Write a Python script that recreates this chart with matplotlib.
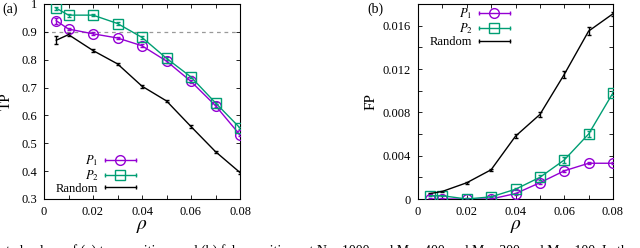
import numpy as np
import matplotlib
matplotlib.use("Agg")
import matplotlib.pyplot as plt
from matplotlib.lines import Line2D
from matplotlib.legend_handler import HandlerLine2D
from matplotlib.ticker import MultipleLocator, FixedLocator

plt.rcParams["font.family"] = ["Liberation Serif", "DejaVu Serif"]
plt.rcParams["mathtext.fontset"] = "stix"

rho = [0.005, 0.01, 0.02, 0.03, 0.04, 0.05, 0.06, 0.07, 0.08]

# (a) true positives
tp_p1 = [0.940, 0.910, 0.893, 0.878, 0.850, 0.795, 0.722, 0.635, 0.530]
tp_p2 = [0.985, 0.960, 0.960, 0.930, 0.880, 0.805, 0.738, 0.645, 0.555]
tp_rand = [0.870, 0.890, 0.833, 0.785, 0.705, 0.652, 0.560, 0.470, 0.395]
tp_p1_err = [0.010, 0.005, 0.005, 0.005, 0.005, 0.005, 0.005, 0.005, 0.005]
tp_p2_err = [0.005, 0.005, 0.003, 0.005, 0.005, 0.005, 0.005, 0.005, 0.005]
tp_rand_err = [0.015, 0.006, 0.005, 0.005, 0.005, 0.005, 0.004, 0.004, 0.004]

# (b) false positives
fp_p1 = [0.0, 0.0, 0.0, 0.0, 0.0005, 0.0015, 0.0026, 0.0033, 0.0033]
fp_p2 = [0.0003, 0.0003, 0.0, 0.0002, 0.0009, 0.0020, 0.0036, 0.0060, 0.0098]
fp_rand = [0.0005, 0.0007, 0.0015, 0.0027, 0.0058, 0.0078, 0.0115, 0.0155, 0.0171]
fp_p1_err = [0.00005, 0.00005, 0.00005, 0.00005, 0.0001, 0.0001, 0.0001, 0.0001, 0.0001]
fp_p2_err = [0.00005, 0.00005, 0.00005, 0.00005, 0.0001, 0.0002, 0.0003, 0.0003, 0.0002]
fp_rand_err = [0.00005, 0.00005, 0.0001, 0.0001, 0.0002, 0.0002, 0.0003, 0.0004, 0.0002]

labels = ["$P_1$", "$P_2$", "Random"]
PURPLE = "#9400d3"
GREEN = "#009e73"


class HandlerBar(HandlerLine2D):
    # gnuplot-like key sample: line, marker in the middle, caps at both ends
    def create_artists(self, legend, orig_handle, xdescent, ydescent,
                       width, height, fontsize, trans):
        arts = super().create_artists(legend, orig_handle, xdescent, ydescent,
                                      width, height, fontsize, trans)
        y = (height - ydescent) / 2
        caps = Line2D([-xdescent, width - xdescent], [y, y], ls="none",
                      marker="|", ms=3.5, mew=1, color=orig_handle.get_color())
        caps.set_transform(trans)
        return arts + [caps]


def draw(ax, ys, errs):
    specs = [(PURPLE, "o"), (GREEN, "s"), ("black", "none")]
    handles = []
    for (col, mk), y, e in zip(specs, ys, errs):
        ms = 7 if mk == "o" else 6.5
        ax.errorbar(rho, y, yerr=e, color=col, lw=1, capsize=1.5, elinewidth=1,
                    marker=mk, ms=ms, mfc="none", mew=1, zorder=3)
        handles.append(Line2D([], [], color=col, lw=1, marker=mk, ms=ms,
                              mfc="none", mew=1))
    ax.set_xlim(0, 0.08)
    ax.xaxis.set_major_locator(FixedLocator([0, 0.02, 0.04, 0.06, 0.08]))
    ax.set_xticklabels(["0", "0.02", "0.04", "0.06", "0.08"])
    ax.xaxis.set_minor_locator(MultipleLocator(0.01))
    ax.tick_params(which="both", direction="in", top=True, right=True,
                   length=3, width=0.6, labelsize=9, pad=5)
    ax.set_xlabel(r"$\rho$", fontsize=14, labelpad=0)
    for s in ax.spines.values():
        s.set_linewidth(0.8)
    return handles


def key(ax, handles, loc, anchor):
    ax.legend(handles, labels, loc=loc, bbox_to_anchor=anchor, frameon=False,
              markerfirst=False, fontsize=9, handlelength=2.5, handletextpad=0.5,
              labelspacing=0.0, borderaxespad=0.1, handler_map={Line2D: HandlerBar()})


fig = plt.figure(figsize=(6.4, 2.48), dpi=100)
ax1 = fig.add_axes([44 / 640, 1 - 199 / 248, 196 / 640, 195 / 248])
ax2 = fig.add_axes([418 / 640, 1 - 199 / 248, 195 / 640, 195 / 248])

h1 = draw(ax1, [tp_p1, tp_p2, tp_rand], [tp_p1_err, tp_p2_err, tp_rand_err])
ax1.axhline(0.9, color="#999999", lw=0.9, ls=(0, (3, 3)), zorder=1)
ax1.set_ylim(0.3, 1.0)
ax1.yaxis.set_major_locator(MultipleLocator(0.1))
ax1.yaxis.set_major_formatter(plt.FuncFormatter(lambda v, p: "1" if abs(v - 1) < 1e-9 else f"{v:.1f}"))
ax1.set_ylabel("TP", fontsize=11, labelpad=6)
key(ax1, h1, "lower left", (0.03, -0.01))
fig.text(2 / 640, 1 - 9 / 248, "(a)", fontsize=10, va="center")

h2 = draw(ax2, [fp_p1, fp_p2, fp_rand], [fp_p1_err, fp_p2_err, fp_rand_err])
ax2.set_ylim(0, 0.018)
ax2.yaxis.set_major_locator(FixedLocator([0, 0.004, 0.008, 0.012, 0.016]))
ax2.set_yticklabels(["0", "0.004", "0.008", "0.012", "0.016"])
ax2.yaxis.set_minor_locator(MultipleLocator(0.002))
ax2.set_ylabel("FP", fontsize=11, labelpad=4)
key(ax2, h2, "upper left", (0.03, 1.02))
fig.text(367 / 640, 1 - 9 / 248, "(b)", fontsize=10, va="center")

fig.text(-4 / 640, 1 - 244 / 248,
         "lated values of (a) true positives and (b) false positives at N = 1000 and M = 400 and M = 300 and M = 100. In the",
         fontsize=10, va="top", ha="left")

fig.savefig("out.png", dpi=100)
